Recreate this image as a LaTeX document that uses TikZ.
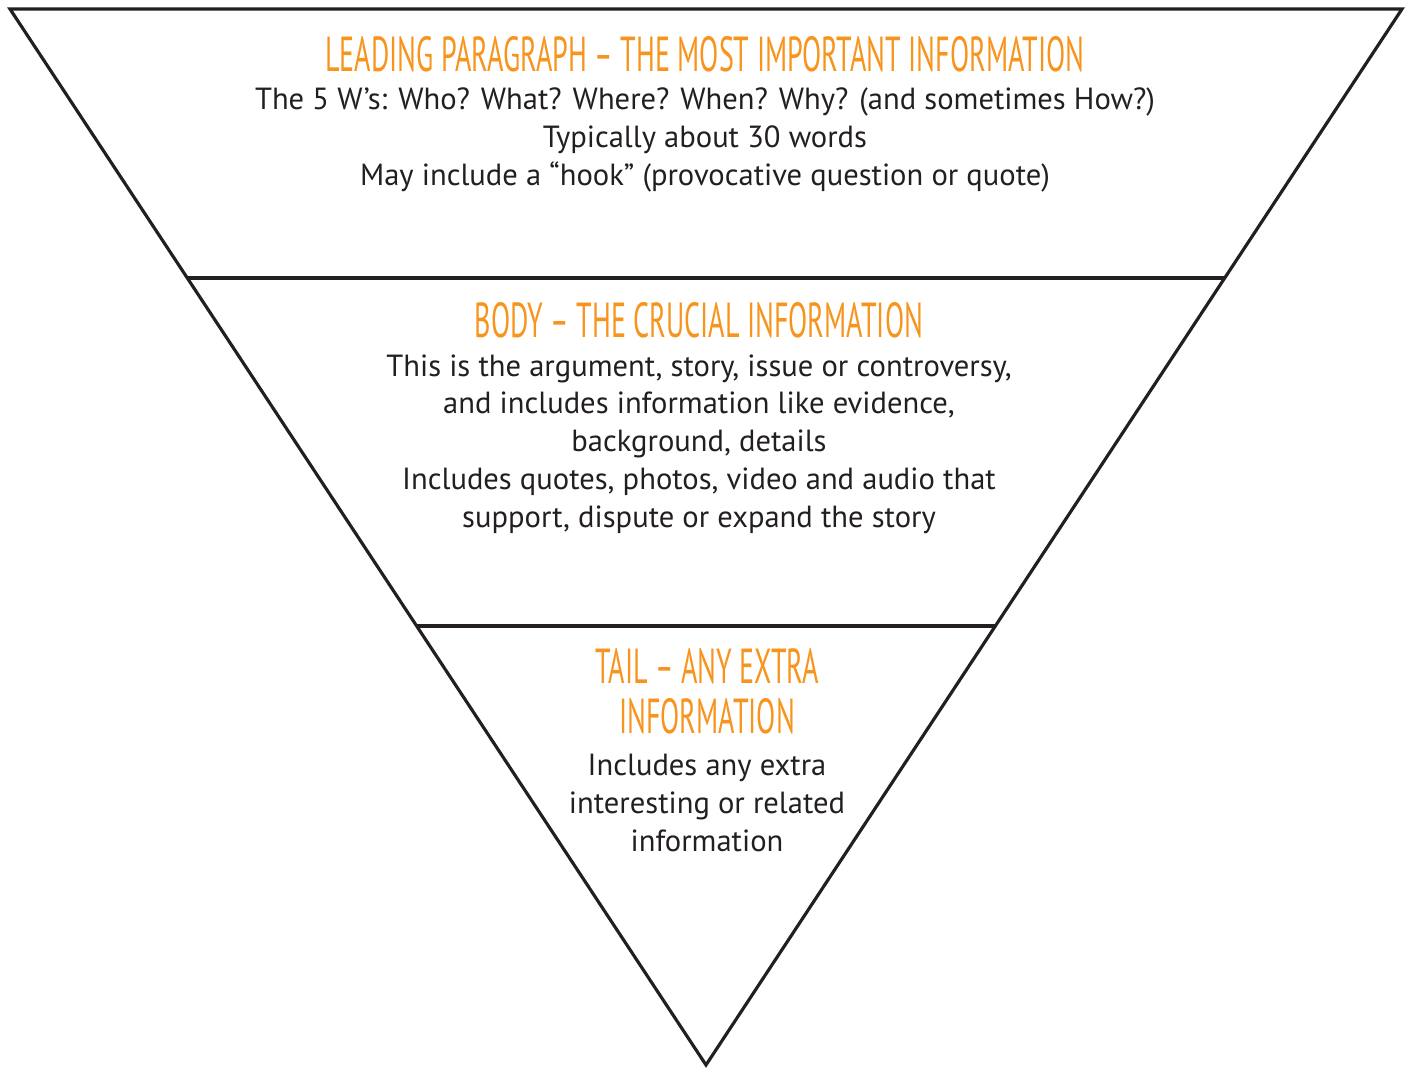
\documentclass[tikz,border=0pt]{standalone}
\usepackage{fontspec}
\setmainfont{PT Sans}
\newfontfamily\headfont[FakeStretch=0.57]{PT Sans}
\definecolor{headOrange}{RGB}{247,148,29}
\definecolor{inkGray}{RGB}{35,31,32}

\begin{document}
\begin{tikzpicture}[x=0.02cm,y=-0.02cm]

\tikzstyle{frameLine}=[line width=1.8pt,draw=inkGray]
\tikzstyle{heading}=[text=headOrange,font=\headfont\fontsize{28}{28.5}\selectfont,align=center,inner sep=0pt]
\tikzstyle{blurb}=[text=inkGray,font=\fontsize{17.4}{21.5}\selectfont,align=center,inner sep=0pt]

\useasboundingbox (0,0) rectangle (1407,1068);

%Pyramid corners
\coordinate (topLeft) at (10,9);
\coordinate (topRight) at (1402,9);
\coordinate (apex) at (706,1065);
\coordinate (midLeft) at (187,278);
\coordinate (midRight) at (1225,278);
\coordinate (lowLeft) at (416,626);
\coordinate (lowRight) at (996,626);

\draw[frameLine] (topLeft) -- (topRight) -- (apex) -- cycle;
\draw[frameLine] (midLeft) -- (midRight);
\draw[frameLine] (lowLeft) -- (lowRight);

%Leading paragraph
\node[heading] (leadHead) at (705,54) {LEADING PARAGRAPH – THE MOST IMPORTANT INFORMATION};
\node[blurb] (leadText) at (705,140) {The 5 W’s: Who? What? Where? When? Why? (and sometimes How?)\\
Typically about 30 words\\
May include a “hook” (provocative question or quote)};

%Body
\node[heading] (bodyHead) at (699,320) {BODY – THE CRUCIAL INFORMATION};
\node[blurb] (bodyText) at (699,444) {This is the argument, story, issue or controversy,\\
and includes information like evidence,\\
background, details\\
Includes quotes, photos, video and audio that\\
support, dispute or expand the story};

%Tail
\node[heading] (tailHead) at (707,691) {TAIL – ANY EXTRA\\INFORMATION};
\node[blurb] (tailText) at (707,803) {Includes any extra\\
interesting or related\\
information};

\end{tikzpicture}
\end{document}
